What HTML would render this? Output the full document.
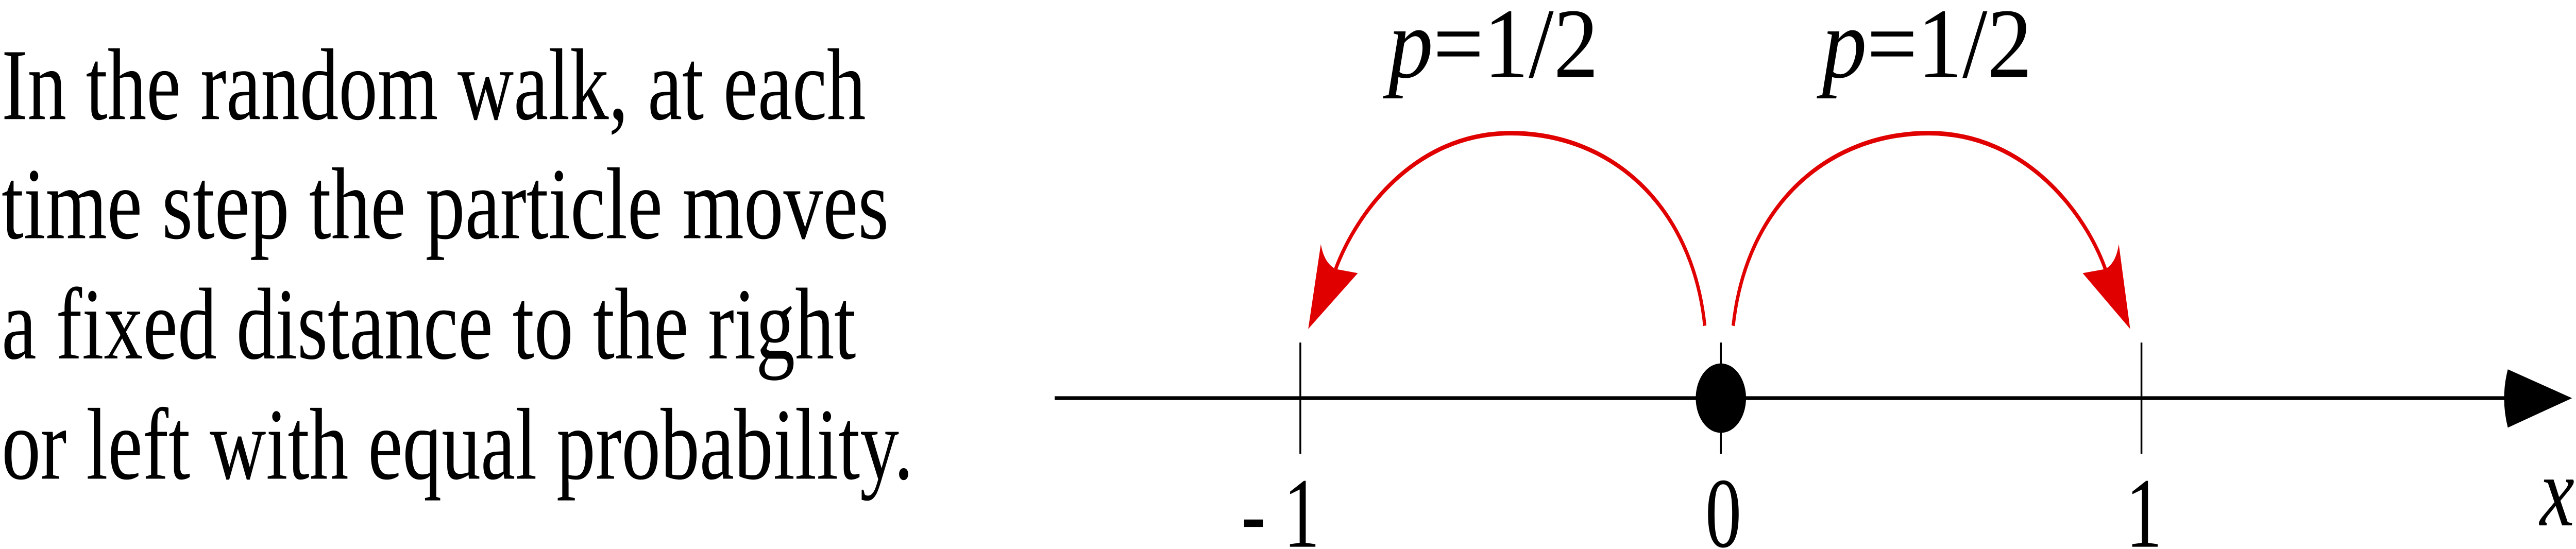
<!DOCTYPE html>
<html><head><meta charset="utf-8">
<style>
html,body{margin:0;padding:0;background:#fff;width:100%;height:100%;overflow:hidden;}
svg{display:block;width:100vw;height:100vh;}
.body{font-family:"Liberation Serif",serif;font-size:45px;fill:#000;}
.math{font-family:"Liberation Serif",serif;font-size:44px;fill:#000;}
</style></head><body>
<svg id="fig" viewBox="0 0 1568 242" preserveAspectRatio="none" xmlns="http://www.w3.org/2000/svg">
  <g class="body">
    <text x="1" y="52.5" textLength="526" lengthAdjust="spacingAndGlyphs">In the random walk, at each</text>
    <text x="1" y="105" textLength="540" lengthAdjust="spacingAndGlyphs">time step the particle moves</text>
    <text x="1" y="158" textLength="520" lengthAdjust="spacingAndGlyphs">a fixed distance to the right</text>
    <text x="1" y="211" textLength="555" lengthAdjust="spacingAndGlyphs">or left with equal probability.</text>
  </g>
  <g>
    <line x1="642" y1="175.5" x2="1530" y2="175.5" stroke="#000" stroke-width="1.67"/>
    <path d="M1526.5,162.8 L1565.6,175.5 L1526.5,188.5 Q1522,175.5 1526.5,162.8 Z" fill="#000"/>
    <text class="math" x="1546" y="231.6" font-style="italic" textLength="21" lengthAdjust="spacingAndGlyphs">x</text>
    <g id="ticks"></g>
    <circle cx="1047.5" cy="175.5" r="15.3" fill="#000"/>
  </g>
  <g>
    <path d="M1037.7,143.6 C1030,90 980,58.7 919.6,58.7 C860,58.7 825,95 813,118.6" fill="none" stroke="#e00000" stroke-width="2"/>
    <path d="M796.3,145 L804,107.6 Q806,116 813,118.6 L826.5,120.4 Z" fill="#e00000"/>
    <text class="math" x="845" y="34" textLength="128" lengthAdjust="spacingAndGlyphs"><tspan font-style="italic">p</tspan>=1/2</text>
  </g>
  <g>
    <path d="M1055,143.6 C1063,90 1113,58.7 1174,58.7 C1234,58.7 1270,95 1281.5,118.6" fill="none" stroke="#e00000" stroke-width="2"/>
    <path d="M1296.6,145 L1289.7,107.6 Q1288,116 1281.5,118.6 L1267.7,120.4 Z" fill="#e00000"/>
    <text class="math" x="1109" y="34" textLength="128" lengthAdjust="spacingAndGlyphs"><tspan font-style="italic">p</tspan>=1/2</text>
  </g>
</svg>
<script>
const tickValues = [-1, 0, 1];
const tickLabels = ["- 1", "0", "1"];
function xPos(v){ return 1047.5 + v * 256; }
const NS = "http://www.w3.org/2000/svg";
const g = document.getElementById("ticks");
tickValues.forEach(function(v, i){
  const x = xPos(v);
  const ln = document.createElementNS(NS, "line");
  
  
  ln.setAttribute("x1", x); ln.setAttribute("x2", x);
  ln.setAttribute("y1", 151); ln.setAttribute("y2", 200);
  ln.setAttribute("stroke", "#000"); ln.setAttribute("stroke-width", "1.1");
  g.appendChild(ln);
  const t = document.createElementNS(NS, "text");
  
  
  t.setAttribute("class", "math");
  t.setAttribute("font-size", "45");
  t.setAttribute("y", 241);
  t.setAttribute("text-anchor", "middle");
  t.setAttribute("x", tickLabels[i].length > 1 ? x - 12 : x + 1.5);
  t.textContent = tickLabels[i];
  g.appendChild(t);
});
</script>
</body></html>
